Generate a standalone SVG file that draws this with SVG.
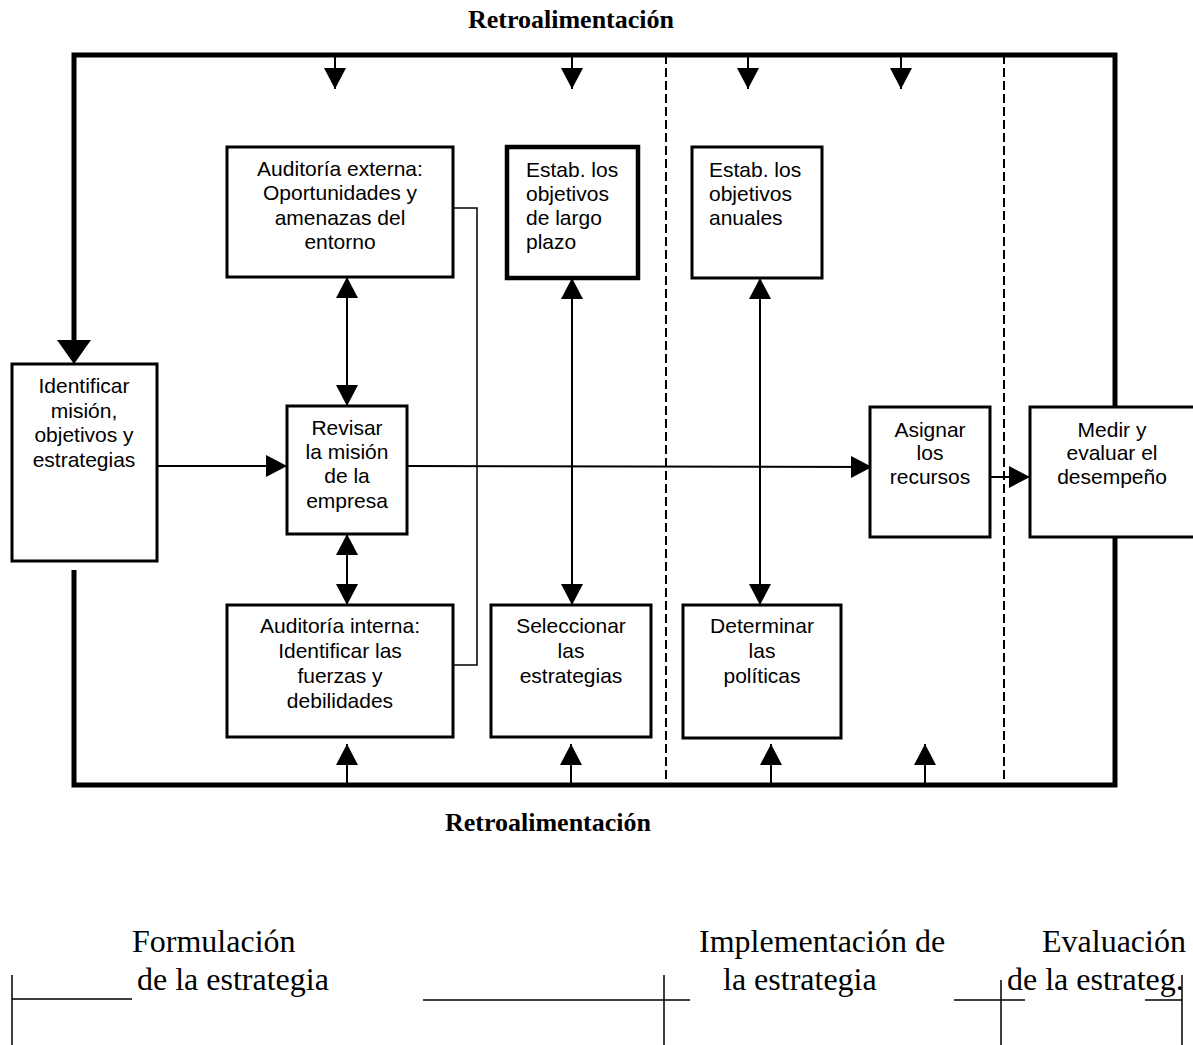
<svg xmlns="http://www.w3.org/2000/svg" width="1193" height="1045" viewBox="0 0 1193 1045">
  <style>
    .box { fill: #fff; stroke: #000; stroke-width: 3; }
    .box-bold { fill: #fff; stroke: #000; stroke-width: 4.5; }
    .frame { fill: none; stroke: #000; stroke-width: 5; }
    .link { fill: none; stroke: #000; stroke-width: 2; }
    .dash { fill: none; stroke: #000; stroke-width: 2; stroke-dasharray: 9 4; }
    .rule { fill: none; stroke: #000; stroke-width: 1.5; }
    .lbl { font-family: "Liberation Sans", Arial, sans-serif; font-size: 21px; fill: #000; }
    .c { text-anchor: middle; }
    .fb { font-family: "Liberation Serif", "Times New Roman", serif; font-size: 26px; font-weight: bold; fill: #000; text-anchor: middle; }
    .phase { font-family: "Liberation Serif", "Times New Roman", serif; font-size: 32px; fill: #000; }
  </style>
  <defs>
    <marker id="head" markerUnits="userSpaceOnUse" markerWidth="22" markerHeight="22" refX="21" refY="11" orient="auto-start-reverse" viewBox="0 0 22 22">
      <path d="M0,0 L21,11 L0,22 z" fill="#000"/>
    </marker>
  </defs>

  <!-- feedback labels -->
  <text class="fb" x="571" y="28">Retroalimentación</text>
  <text class="fb" x="548" y="831">Retroalimentación</text>

  <!-- outer feedback loop and phase dividers -->
  <g id="frame">
    <path class="frame" d="M74,343 L74,55 L1115,55 L1115,785 L74,785 L74,570"/>
    <line class="dash" x1="666" y1="55" x2="666" y2="785"/>
    <line class="dash" x1="1004" y1="55" x2="1004" y2="785"/>
  </g>

  <g id="connectors">
    <!-- loop into the first step -->
    <path d="M57,340 L91,340 L74,364 z" fill="#000"/>
    <!-- feedback arrows from the top -->
    <line class="link" x1="335" y1="55" x2="335" y2="89" marker-end="url(#head)"/>
    <line class="link" x1="572" y1="55" x2="572" y2="89" marker-end="url(#head)"/>
    <line class="link" x1="748" y1="55" x2="748" y2="89" marker-end="url(#head)"/>
    <line class="link" x1="901" y1="55" x2="901" y2="89" marker-end="url(#head)"/>
    <!-- feedback arrows from the bottom -->
    <line class="link" x1="347" y1="785" x2="347" y2="744" marker-end="url(#head)"/>
    <line class="link" x1="571" y1="785" x2="571" y2="744" marker-end="url(#head)"/>
    <line class="link" x1="771" y1="785" x2="771" y2="744" marker-end="url(#head)"/>
    <line class="link" x1="925" y1="785" x2="925" y2="744" marker-end="url(#head)"/>
    <!-- audits bracket -->
    <path class="rule" d="M453,208 L477,208 L477,665 L453,665"/>
    <!-- main flow -->
    <line class="link" x1="157" y1="466" x2="287" y2="466" marker-end="url(#head)"/>
    <line class="link" x1="407" y1="466" x2="872" y2="467" marker-end="url(#head)"/>
    <line class="link" x1="990" y1="477" x2="1030" y2="477" marker-end="url(#head)"/>
    <!-- two-way links -->
    <line class="link" x1="347" y1="277" x2="347" y2="406" marker-start="url(#head)" marker-end="url(#head)"/>
    <line class="link" x1="347" y1="534" x2="347" y2="605" marker-start="url(#head)" marker-end="url(#head)"/>
    <line class="link" x1="572" y1="278" x2="572" y2="605" marker-start="url(#head)" marker-end="url(#head)"/>
    <line class="link" x1="760" y1="278" x2="760" y2="605" marker-start="url(#head)" marker-end="url(#head)"/>
  </g>

  <g id="identificar">
    <rect class="box" x="12" y="364" width="145" height="197"/>
    <text class="lbl c" x="84" y="393">Identificar</text>
    <text class="lbl c" x="84" y="418">misión,</text>
    <text class="lbl c" x="84" y="442">objetivos y</text>
    <text class="lbl c" x="84" y="467">estrategias</text>
  </g>

  <g id="auditoria-externa">
    <rect class="box" x="227" y="147" width="226" height="130"/>
    <text class="lbl c" x="340" y="176">Auditoría externa:</text>
    <text class="lbl c" x="340" y="200">Oportunidades y</text>
    <text class="lbl c" x="340" y="225">amenazas del</text>
    <text class="lbl c" x="340" y="249">entorno</text>
  </g>

  <g id="revisar">
    <rect class="box" x="287" y="406" width="120" height="128"/>
    <text class="lbl c" x="347" y="435">Revisar</text>
    <text class="lbl c" x="347" y="459">la misión</text>
    <text class="lbl c" x="347" y="483">de la</text>
    <text class="lbl c" x="347" y="508">empresa</text>
  </g>

  <g id="auditoria-interna">
    <rect class="box" x="227" y="605" width="226" height="132"/>
    <text class="lbl c" x="340" y="633">Auditoría interna:</text>
    <text class="lbl c" x="340" y="658">Identificar las</text>
    <text class="lbl c" x="340" y="683">fuerzas y</text>
    <text class="lbl c" x="340" y="708">debilidades</text>
  </g>

  <g id="objetivos-largo-plazo">
    <rect class="box-bold" x="507" y="147" width="131" height="131"/>
    <text class="lbl" x="526" y="177">Estab. los</text>
    <text class="lbl" x="526" y="201">objetivos</text>
    <text class="lbl" x="526" y="225">de largo</text>
    <text class="lbl" x="526" y="249">plazo</text>
  </g>

  <g id="seleccionar">
    <rect class="box" x="491" y="605" width="160" height="132"/>
    <text class="lbl c" x="571" y="633">Seleccionar</text>
    <text class="lbl c" x="571" y="658">las</text>
    <text class="lbl c" x="571" y="683">estrategias</text>
  </g>

  <g id="objetivos-anuales">
    <rect class="box" x="692" y="147" width="130" height="131"/>
    <text class="lbl" x="709" y="177">Estab. los</text>
    <text class="lbl" x="709" y="201">objetivos</text>
    <text class="lbl" x="709" y="225">anuales</text>
  </g>

  <g id="determinar">
    <rect class="box" x="683" y="605" width="158" height="133"/>
    <text class="lbl c" x="762" y="633">Determinar</text>
    <text class="lbl c" x="762" y="658">las</text>
    <text class="lbl c" x="762" y="683">políticas</text>
  </g>

  <g id="asignar">
    <rect class="box" x="870" y="407" width="120" height="130"/>
    <text class="lbl c" x="930" y="437">Asignar</text>
    <text class="lbl c" x="930" y="460">los</text>
    <text class="lbl c" x="930" y="484">recursos</text>
  </g>

  <g id="medir">
    <rect class="box" x="1030" y="407" width="175" height="130"/>
    <text class="lbl c" x="1112" y="437">Medir y</text>
    <text class="lbl c" x="1112" y="460">evaluar el</text>
    <text class="lbl c" x="1112" y="484">desempeño</text>
  </g>

  <!-- phase scale -->
  <g id="phases">
    <path class="rule" d="M12,975 L12,1045 M12,999 L132,999"/>
    <path class="rule" d="M423,1000 L690,1000 M664,975 L664,1045"/>
    <path class="rule" d="M954,1000 L1025,1000 M1001,980 L1001,1045"/>
    <path class="rule" d="M1145,1000 L1182,1000 M1182,975 L1182,1045"/>
    <text class="phase" x="132" y="952">Formulación</text>
    <text class="phase" x="137" y="990">de la estrategia</text>
    <text class="phase" x="699" y="952">Implementación de</text>
    <text class="phase" x="723" y="990">la estrategia</text>
    <text class="phase" x="1042" y="952">Evaluación</text>
    <text class="phase" x="1007" y="990">de la estrateg.</text>
  </g>
</svg>
